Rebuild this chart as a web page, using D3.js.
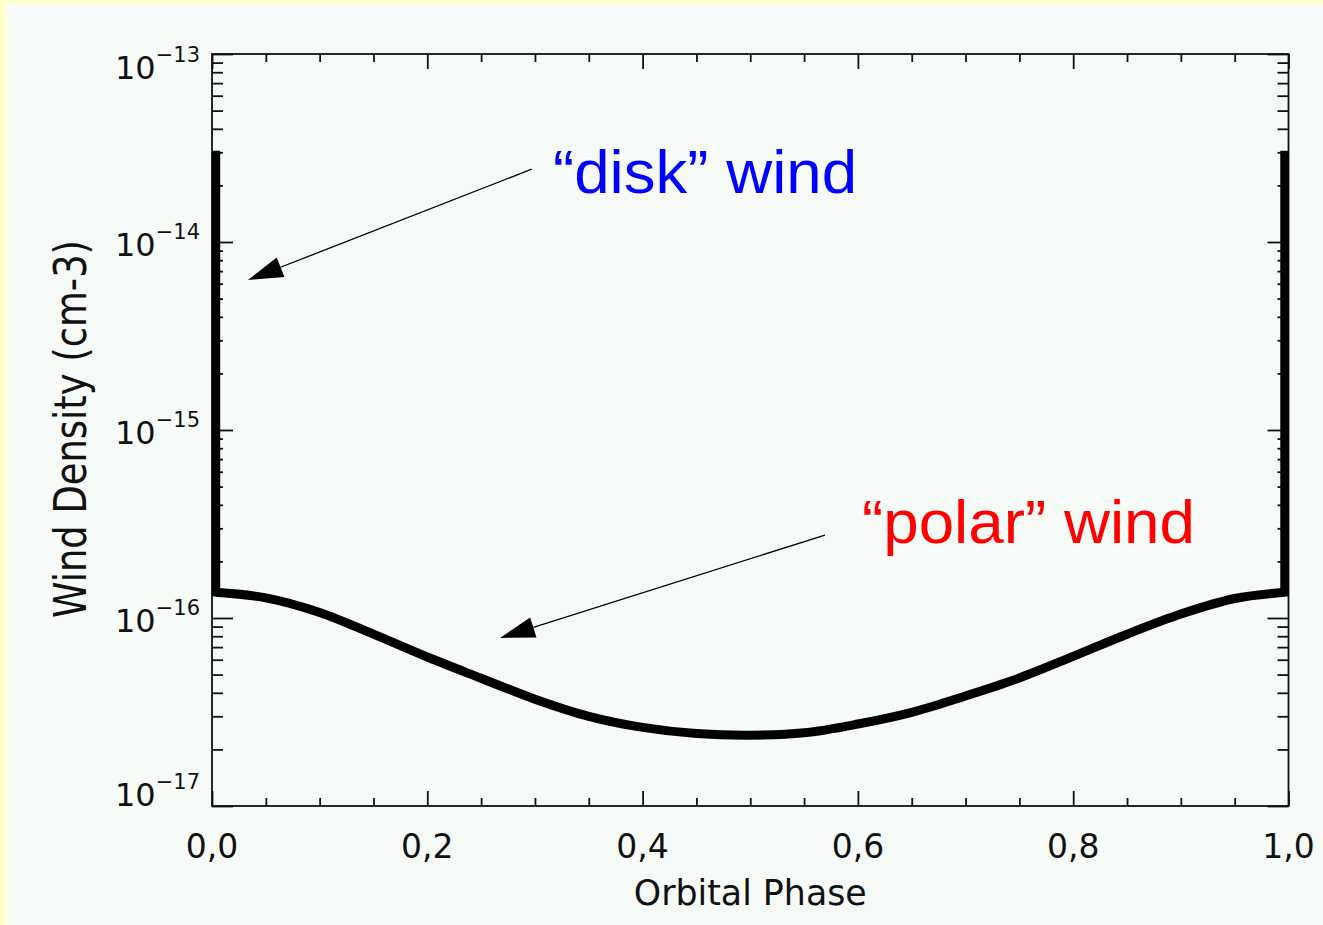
<!DOCTYPE html>
<html>
<head>
<meta charset="utf-8">
<script src="https://cdn.jsdelivr.net/npm/d3@7"></script>
<style>
  html, body { margin: 0; padding: 0; background: #ffffcc; }
  svg { display: block; }
</style>
</head>
<body>
<svg id="chart" width="1323" height="925"></svg>
<script>
// ---------------- data ----------------
const phases = [0.0037, 0.05, 0.10, 0.15, 0.20, 0.25, 0.30, 0.35, 0.40, 0.45, 0.50,
                0.55, 0.60, 0.65, 0.70, 0.75, 0.80, 0.85, 0.90, 0.95, 0.9963];
const polarDensity = [1.37e-16, 1.28e-16, 1.07e-16, 8.20e-17, 6.20e-17, 4.78e-17, 3.70e-17,
                      3.00e-17, 2.62e-17, 2.43e-17, 2.38e-17, 2.45e-17, 2.73e-17, 3.15e-17,
                      3.85e-17, 4.80e-17, 6.25e-17, 8.20e-17, 1.05e-16, 1.27e-16, 1.37e-16];
const diskPhase = [0.0037, 0.9963];
const diskPeak = [2.9e-14, 2.9e-14];
const diskBase = [1.37e-16, 1.37e-16];

const xMajorTicks = [0, 0.2, 0.4, 0.6, 0.8, 1.0];
const xTickLabels = ["0,0", "0,2", "0,4", "0,6", "0,8", "1,0"];
const xMinorTicks = [0.05, 0.10, 0.15, 0.25, 0.30, 0.35, 0.45, 0.50, 0.55,
                     0.65, 0.70, 0.75, 0.85, 0.90, 0.95];
const yMajorTicks = [1e-17, 1e-16, 1e-15, 1e-14, 1e-13];
const yExponents = ["\u221217", "\u221216", "\u221215", "\u221214", "\u221213"];

const xTitle = "Orbital Phase";
const yTitle = "Wind Density (cm-3)";

const annotations = [
  { text: "\u201Cdisk\u201D wind", color: "#0000ff", tx: 0.3168, ty: 1.82e-14, len: 304,
    from: [0.297, 2.44e-14], to: [0.0334, 6.28e-15] },
  { text: "\u201Cpolar\u201D wind", color: "#ff0000", tx: 0.6038, ty: 2.5e-16, len: 333,
    from: [0.5694, 2.76e-16], to: [0.2675, 7.83e-17] }
];

// ---------------- layout ----------------
const svg = d3.select("#chart");
const W = 1323, H = 925;
const plot = { left: 212, right: 1288.5, top: 54, bottom: 806 };
const ink = "#111";
const labelFont = "DejaVu Sans, sans-serif";

svg.append("rect").attr("x", 0).attr("y", 0).attr("width", W).attr("height", H).attr("fill", "#ffffcc");
svg.append("rect").attr("x", 7).attr("y", 4).attr("width", W - 7).attr("height", H - 4).attr("fill", "#f6fbf8");

const x = d3.scaleLinear().domain([0, 1]).range([plot.left, plot.right]);
const y = d3.scaleLog().domain([1e-17, 1e-13]).range([plot.bottom, plot.top]);

// ---------------- axes (ticks inward on all four sides) ----------------
function styleAxis(g) {
  g.select(".domain").remove();
  g.selectAll(".tick line").attr("stroke", ink).attr("stroke-width", 1.8);
  g.selectAll(".tick text").remove();
}
const yMinorVals = y.ticks().filter(v => !yMajorTicks.some(m => Math.abs(m - v) / v < 1e-6));

svg.append("g").attr("transform", `translate(0,${plot.bottom})`)
  .call(d3.axisBottom(x).tickValues(xMajorTicks).tickSize(-15).tickSizeOuter(0)).call(styleAxis);
svg.append("g").attr("transform", `translate(0,${plot.bottom})`)
  .call(d3.axisBottom(x).tickValues(xMinorTicks).tickSize(-8).tickSizeOuter(0)).call(styleAxis);
svg.append("g").attr("transform", `translate(0,${plot.top})`)
  .call(d3.axisTop(x).tickValues(xMajorTicks).tickSize(-15).tickSizeOuter(0)).call(styleAxis);
svg.append("g").attr("transform", `translate(0,${plot.top})`)
  .call(d3.axisTop(x).tickValues(xMinorTicks).tickSize(-8).tickSizeOuter(0)).call(styleAxis);

svg.append("g").attr("transform", `translate(${plot.left},0)`)
  .call(d3.axisLeft(y).tickValues(yMajorTicks).tickSize(-21).tickSizeOuter(0)).call(styleAxis);
svg.append("g").attr("transform", `translate(${plot.left},0)`)
  .call(d3.axisLeft(y).tickValues(yMinorVals).tickSize(-11).tickSizeOuter(0)).call(styleAxis);
svg.append("g").attr("transform", `translate(${plot.right},0)`)
  .call(d3.axisRight(y).tickValues(yMajorTicks).tickSize(-21).tickSizeOuter(0)).call(styleAxis);
svg.append("g").attr("transform", `translate(${plot.right},0)`)
  .call(d3.axisRight(y).tickValues(yMinorVals).tickSize(-11).tickSizeOuter(0)).call(styleAxis);

// frame
svg.append("rect")
  .attr("x", plot.left).attr("y", plot.top)
  .attr("width", plot.right - plot.left).attr("height", plot.bottom - plot.top)
  .attr("fill", "none").attr("stroke", ink).attr("stroke-width", 1.8);

// x tick labels
svg.append("g").selectAll("text").data(xMajorTicks).join("text")
  .attr("x", d => x(d)).attr("y", plot.bottom + 52)
  .attr("text-anchor", "middle")
  .attr("font-family", labelFont).attr("font-size", 33).attr("fill", ink)
  .text((d, i) => xTickLabels[i]);

// y tick labels (10^n)
const yLabelShift = (i) => i === 0 ? 0 : (i === yMajorTicks.length - 1 ? 25 : 14);
const yl = svg.append("g").selectAll("text").data(yMajorTicks).join("text")
  .attr("x", plot.left - 12)
  .attr("y", (d, i) => y(d) + yLabelShift(i))
  .attr("text-anchor", "end")
  .attr("font-family", labelFont).attr("fill", ink);
yl.append("tspan").attr("font-size", 32).text("10");
yl.append("tspan").attr("font-size", 21).attr("dy", -17).text((d, i) => yExponents[i]);

// axis titles
svg.append("text")
  .attr("x", (plot.left + plot.right) / 2).attr("y", 905)
  .attr("text-anchor", "middle")
  .attr("font-family", labelFont).attr("font-size", 35).attr("fill", ink)
  .attr("textLength", 233).attr("lengthAdjust", "spacingAndGlyphs")
  .text(xTitle);

svg.append("text")
  .attr("transform", `translate(86,429) rotate(-90)`)
  .attr("text-anchor", "middle")
  .attr("font-family", labelFont).attr("font-size", 44).attr("fill", ink)
  .attr("textLength", 378).attr("lengthAdjust", "spacingAndGlyphs")
  .text(yTitle);

// ---------------- data marks ----------------
const polarLine = d3.line()
  .x((d, i) => x(phases[i]))
  .y(d => y(d))
  .curve(d3.curveCatmullRom.alpha(0.5));

svg.append("path")
  .attr("d", polarLine(polarDensity))
  .attr("fill", "none").attr("stroke", "#000").attr("stroke-width", 9)
  .attr("stroke-linejoin", "round");

const diskLine = d3.line().x(d => x(d[0])).y(d => y(d[1]));
diskPhase.forEach((p, i) => {
  svg.append("path")
    .attr("d", diskLine([[p, diskPeak[i]], [p, diskBase[i]]]))
    .attr("fill", "none").attr("stroke", "#000").attr("stroke-width", 8.5)
    .attr("stroke-linecap", "square");
});

// ---------------- annotations ----------------
annotations.forEach(a => {
  const x0 = x(a.from[0]), y0 = y(a.from[1]);
  const x1 = x(a.to[0]), y1 = y(a.to[1]);
  const ang = Math.atan2(y1 - y0, x1 - x0);
  const L = 35, hw = 10.5;
  const bx = x1 - L * Math.cos(ang), by = y1 - L * Math.sin(ang);
  svg.append("line")
    .attr("x1", x0).attr("y1", y0).attr("x2", bx).attr("y2", by)
    .attr("stroke", "#000").attr("stroke-width", 1.3);
  const pts = [
    [x1, y1],
    [bx + hw * Math.sin(ang), by - hw * Math.cos(ang)],
    [bx - hw * Math.sin(ang), by + hw * Math.cos(ang)]
  ];
  svg.append("polygon").attr("points", pts.map(p => p.join(",")).join(" ")).attr("fill", "#000");
  svg.append("text")
    .attr("x", x(a.tx)).attr("y", y(a.ty))
    .attr("font-family", "Liberation Sans, Arial, sans-serif")
    .attr("font-size", 61).attr("fill", a.color)
    .attr("textLength", a.len).attr("lengthAdjust", "spacingAndGlyphs")
    .text(a.text);
});
</script>
</body>
</html>
